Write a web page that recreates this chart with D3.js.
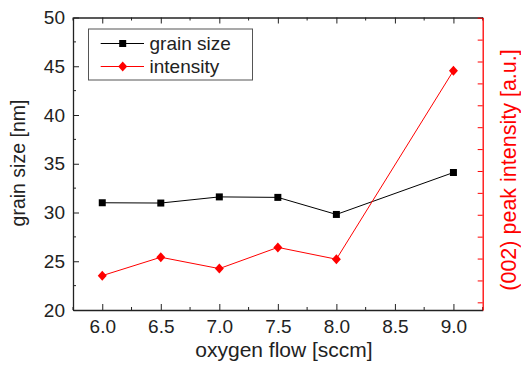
<!DOCTYPE html>
<html>
<head>
<meta charset="UTF-8">
<script src="https://d3js.org/d3.v7.min.js"></script>
<style>
  body { margin: 0; background: #fff; }
  svg { font-family: "Liberation Sans", Arial, sans-serif; }
</style>
</head>
<body>
<svg id="chart" width="521" height="365"></svg>
<script>
// data
const oxygenFlow = [6.0, 6.5, 7.0, 7.5, 8.0, 9.0];
const grainSize = [31.0, 30.97, 31.6, 31.55, 29.8, 34.1];
const peakIntensity = [2220, 3060, 2540, 3510, 2970, 11580]; // arbitrary units, right axis has no labels
const xTicks = [6.0, 6.5, 7.0, 7.5, 8.0, 8.5, 9.0];
const yTicks = [20, 25, 30, 35, 40, 45, 50];

const margin = { left: 73, right: 38.3, top: 17.5, bottom: 55 };
const W = 521, H = 365;
const svg = d3.select("#chart");

const x = d3.scaleLinear().domain([5.75, 9.25]).range([margin.left, W - margin.right]);
const y = d3.scaleLinear().domain([20, 50]).range([H - margin.bottom, margin.top]);
const y2 = d3.scaleLinear().domain([650, 14010]).range([H - margin.bottom, margin.top]);

const x0 = x.range()[0], x1 = x.range()[1], yb = y.range()[0], yt = y.range()[1];
const minorX = d3.range(5.75, 9.26, 0.25).filter(v => Math.abs((v * 2) % 1) > 0.01);
const minorY = d3.range(22.5, 50, 5);

// bottom axis
const gb = svg.append("g").attr("transform", `translate(0,${yb})`)
  .call(d3.axisBottom(x).tickValues(xTicks).tickFormat(d3.format(".1f")).tickSizeInner(-6).tickSizeOuter(0).tickPadding(10));
gb.selectAll(".tick line").attr("stroke", "#222");
gb.selectAll("text").attr("font-size", 19).attr("fill", "#222").attr("dy", "0.71em");
svg.append("g").attr("transform", `translate(0,${yb})`)
  .selectAll("line").data(minorX).join("line")
  .attr("x1", d => x(d)).attr("x2", d => x(d)).attr("y1", 0).attr("y2", -3).attr("stroke", "#222");

// top axis (ticks only)
const gt = svg.append("g").attr("transform", `translate(0,${yt})`)
  .call(d3.axisTop(x).tickValues(xTicks).tickFormat("").tickSizeInner(-6).tickSizeOuter(0));
gt.selectAll(".tick line").attr("stroke", "#222");
svg.append("g").attr("transform", `translate(0,${yt})`)
  .selectAll("line").data(minorX).join("line")
  .attr("x1", d => x(d)).attr("x2", d => x(d)).attr("y1", 0).attr("y2", 3).attr("stroke", "#222");

// left axis
const gl = svg.append("g").attr("transform", `translate(${x0},0)`)
  .call(d3.axisLeft(y).tickValues(yTicks).tickSizeInner(-6).tickSizeOuter(0).tickPadding(8));
gl.selectAll(".tick line").attr("stroke", "#222");
gl.selectAll("text").attr("font-size", 19).attr("fill", "#222");
svg.append("g").attr("transform", `translate(${x0},0)`)
  .selectAll("line").data(minorY).join("line")
  .attr("y1", d => y(d)).attr("y2", d => y(d)).attr("x1", 0).attr("x2", 3).attr("stroke", "#222");

// right axis in red, ticks only
const gr = svg.append("g").attr("transform", `translate(${x1},0)`)
  .call(d3.axisRight(y2).tickValues(d3.range(1000, 14001, 1000)).tickFormat("").tickSizeInner(-5).tickSizeOuter(0));
gr.selectAll(".tick line").attr("stroke", "#ff0000");

// frame
gb.select(".domain").attr("stroke", "#222").attr("stroke-width", 1.3);
gt.select(".domain").attr("stroke", "#222").attr("stroke-width", 1.3);
gl.select(".domain").attr("stroke", "#222").attr("stroke-width", 1.3);
gr.select(".domain").attr("stroke", "#ff0000").attr("stroke-width", 1.3);

// series
const pts1 = oxygenFlow.map((o, i) => [x(o), y(grainSize[i])]);
const pts2 = oxygenFlow.map((o, i) => [x(o), y2(peakIntensity[i])]);
const line = d3.line();
svg.append("path").attr("d", line(pts1)).attr("fill", "none").attr("stroke", "#000").attr("stroke-width", 1);
svg.append("path").attr("d", line(pts2)).attr("fill", "none").attr("stroke", "#ff0000").attr("stroke-width", 1);

const square = d3.symbol(d3.symbolSquare, 49);
const diamond = p => `M${p[0]},${p[1] - 5}L${p[0] + 4.5},${p[1]}L${p[0]},${p[1] + 5}L${p[0] - 4.5},${p[1]}Z`;
svg.append("g").selectAll("path").data(pts1).join("path")
  .attr("d", square).attr("transform", d => `translate(${d[0]},${d[1]})`).attr("fill", "#000");
svg.append("g").selectAll("path").data(pts2).join("path")
  .attr("d", diamond).attr("fill", "#ff0000");

// axis titles
svg.append("text").attr("x", 284).attr("y", 357).attr("text-anchor", "middle")
  .attr("font-size", 21).attr("fill", "#222").text("oxygen flow [sccm]");
svg.append("text").attr("transform", "translate(25,163) rotate(-90)").attr("text-anchor", "middle")
  .attr("font-size", 19.5).attr("fill", "#222").text("grain size [nm]");
svg.append("text").attr("transform", "translate(516,170) rotate(-90)").attr("text-anchor", "middle")
  .attr("font-size", 21.5).attr("fill", "#ff0000").text("(002) peak intensity [a.u.]");

// legend
const lg = svg.append("g");
lg.append("rect").attr("x", 88.5).attr("y", 29).attr("width", 164).attr("height", 51)
  .attr("fill", "#fff").attr("stroke", "#555").attr("stroke-width", 1);
const legendItems = [
  { name: "grain size", color: "#000", mark: "square", yy: 43.5 },
  { name: "intensity", color: "#ff0000", mark: "diamond", yy: 66.5 }
];
legendItems.forEach(it => {
  lg.append("line").attr("x1", 100.7).attr("x2", 144).attr("y1", it.yy).attr("y2", it.yy)
    .attr("stroke", it.color).attr("stroke-width", 1);
  if (it.mark === "square")
    lg.append("path").attr("d", square).attr("transform", `translate(122.7,${it.yy})`).attr("fill", it.color);
  else
    lg.append("path").attr("d", diamond([122.7, it.yy])).attr("fill", it.color);
  lg.append("text").attr("x", 149.5).attr("y", it.yy).attr("dy", "0.35em")
    .attr("font-size", 19).attr("fill", "#222").text(it.name);
});
</script>
</body>
</html>
